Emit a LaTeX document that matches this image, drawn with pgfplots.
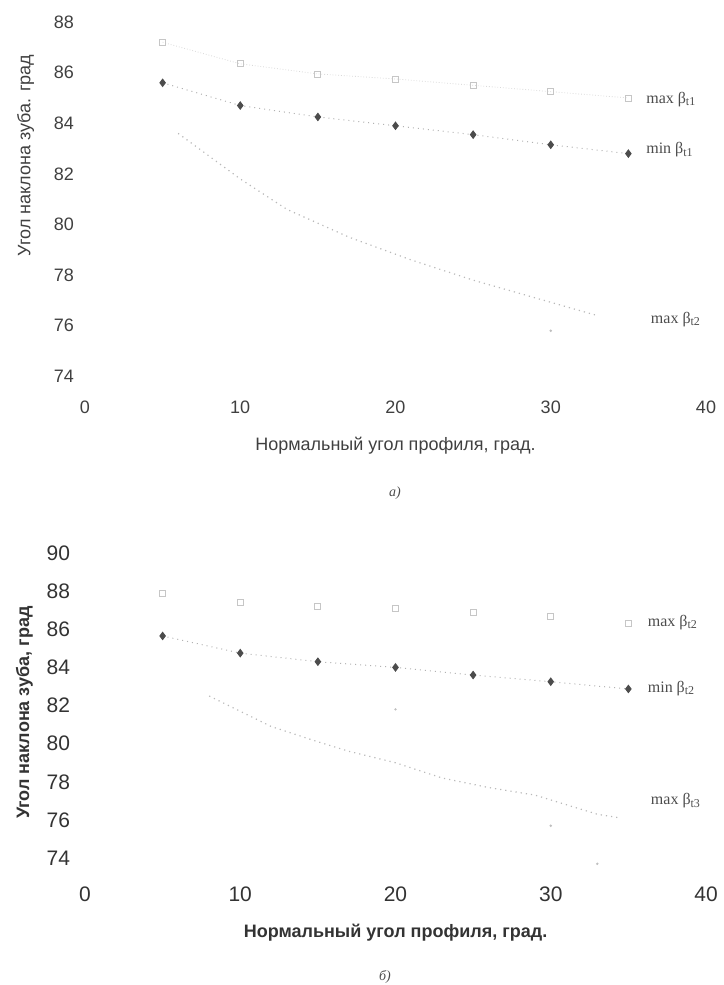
\documentclass[border=0pt]{standalone}
\usepackage{fontspec}
\setmainfont{Liberation Sans}
\newfontfamily\serif{Liberation Serif}
\usepackage{pgfplots}
\pgfplotsset{compat=1.18}
\pgfplotsset{
  myaxis/.style={
    scale only axis,
    anchor=south west,
    xmin=0, xmax=40,
    xtick={0,10,20,30,40},
    axis line style={draw=none},
    major tick length=0pt,
    /pgf/number format/assume math mode=true,
    clip=false,
  },
  maxone/.style={mark=square, mark size=1.5pt, draw=gray!30, mark options={draw=gray!45, solid}, densely dotted, line width=0.4pt},
  minone/.style={mark=diamond*, mark size=1.8pt, draw=gray!60, mark options={draw=black!70, fill=black!70, solid}, dotted, line width=0.5pt},
  maxtwo/.style={no marks, draw=gray!55, dotted, line width=0.6pt},
}
\begin{document}
\begin{tikzpicture}
\useasboundingbox (0pt,0pt) rectangle (361.5pt,-492.5pt);
% ---------- a) ----------
\begin{axis}[myaxis,
  at={(42.5pt,-197pt)}, width=310.5pt, height=192.3pt,
  ymin=73.3, ymax=88.5, ytick={74,76,...,88},
  ticklabel style={font=\fontsize{9}{10}\selectfont, text=black!75},
  yticklabel style={xshift=-2pt},
  xlabel={Нормальный угол профиля, град.},
  ylabel={Угол наклона зуба. град},
  xlabel style={font=\fontsize{9}{10}\selectfont, text=black!75, yshift=-5pt},
  ylabel style={font=\fontsize{9}{10}\selectfont, text=black!75, at={(ticklabel cs:0.62)}, yshift=3pt},
]
\addplot[maxone] coordinates {(5,87.2) (10,86.35) (15,85.95) (20,85.75) (25,85.5) (30,85.25) (35,85.0)};
\addplot[minone] coordinates {(5,85.6) (10,84.7) (15,84.25) (20,83.9) (25,83.55) (30,83.15) (35,82.8)};
\addplot[maxtwo] coordinates {(6,83.6) (10,81.8) (13,80.6) (17,79.5) (21,78.6) (25,77.8) (29,77.1) (33,76.4)};
\addplot[only marks, mark=*, mark size=0.4pt, gray!50] coordinates {(30,75.8)};
\node[anchor=west, font=\serif\fontsize{8}{9}\selectfont, text=black!70] at (axis cs:35.7,84.95) {max β\textsubscript{t1}};
\node[anchor=west, font=\serif\fontsize{8}{9}\selectfont, text=black!70] at (axis cs:35.7,82.95) {min β\textsubscript{t1}};
\node[anchor=west, font=\serif\fontsize{8}{9}\selectfont, text=black!70] at (axis cs:36.0,76.25) {max β\textsubscript{t2}};
\end{axis}
\node[font=\serif\itshape\fontsize{7}{8}\selectfont, text=black!70] at (197.5pt,-246.5pt) {а)};
% ---------- б) ----------
\begin{axis}[myaxis,
  at={(42.5pt,-440pt)}, width=310.5pt, height=167.3pt,
  ymin=72.85, ymax=90.4, ytick={74,76,...,90},
  ticklabel style={font=\fontsize{10.5}{11}\selectfont, text=black!80},
  yticklabel style={xshift=-4pt},
  xlabel={\bfseries Нормальный угол профиля, град.},
  ylabel={\bfseries Угол наклона зуба, град},
  xlabel style={font=\fontsize{9}{10}\selectfont, text=black!80, yshift=-4pt},
  ylabel style={font=\fontsize{9}{10}\selectfont, text=black!80},
]
\addplot[maxone, draw=none, only marks] coordinates {(5,87.9) (10,87.4) (15,87.2) (20,87.1) (25,86.9) (30,86.7) (35,86.3)};
\addplot[minone] coordinates {(5,85.65) (10,84.75) (15,84.3) (20,84.0) (25,83.6) (30,83.25) (35,82.87)};
\addplot[maxtwo] coordinates {(8,82.5) (10,81.7) (12,80.9) (15,80.1) (17,79.6) (20,79.0) (23,78.2) (26,77.7) (29,77.3) (33,76.3) (34.5,76.1)};
\addplot[only marks, mark=*, mark size=0.4pt, gray!50] coordinates {(30,75.7) (33,73.7) (20,81.8)};
\node[anchor=west, font=\serif\fontsize{8}{9}\selectfont, text=black!70] at (axis cs:35.8,86.35) {max β\textsubscript{t2}};
\node[anchor=west, font=\serif\fontsize{8}{9}\selectfont, text=black!70] at (axis cs:35.8,82.9) {min β\textsubscript{t2}};
\node[anchor=west, font=\serif\fontsize{8}{9}\selectfont, text=black!70] at (axis cs:36.0,77.0) {max β\textsubscript{t3}};
\end{axis}
\node[font=\serif\itshape\fontsize{7}{8}\selectfont, text=black!70] at (192.5pt,-488.5pt) {б)};
\end{tikzpicture}
\end{document}
